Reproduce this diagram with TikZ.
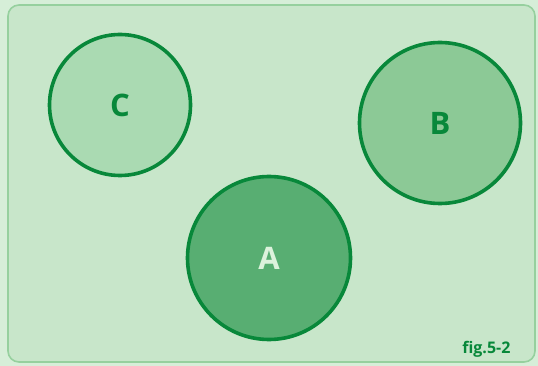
\documentclass[tikz,border=0pt]{standalone}
\usepackage{fontspec}
\setsansfont{Open Sans}
\usepackage{tikz}
\usetikzlibrary{positioning}
\definecolor{paper}{RGB}{214,238,216}
\definecolor{panel}{RGB}{200,230,202}
\definecolor{rim}{RGB}{150,208,158}
\definecolor{ink}{RGB}{8,136,58}
\definecolor{setc}{RGB}{170,218,178}
\definecolor{setb}{RGB}{140,201,150}
\definecolor{seta}{RGB}{88,174,114}
\definecolor{pale}{RGB}{220,242,220}

\begin{document}
\begin{tikzpicture}[
  x=1pt, y=-1pt,
  set/.style={circle, draw=ink, line width=3.6pt, inner sep=0,
    font=\sffamily\bfseries\fontsize{31}{31}\selectfont},
]

% Background and frame
\fill[paper] (0,0) rectangle (538,366);
\draw[rim, fill=panel, line width=1.6pt, rounded corners=11pt] (8,5) rectangle (535,362);
\useasboundingbox (0,0) rectangle (538,366);

% Sets
\node[set, fill=setc, minimum size=141pt, text=ink] (c) at (120,105) {C};
\node[set, fill=setb, minimum size=161pt, text=ink] (b) at (440,123) {B};
\node[set, fill=seta, minimum size=163pt, text=pale] (a) at (269,258) {A};

% Caption
\node[font=\sffamily\bfseries\fontsize{16}{16}\selectfont, text=ink, anchor=east] (cap) at (514,349) {fig.5-2};

\end{tikzpicture}
\end{document}
